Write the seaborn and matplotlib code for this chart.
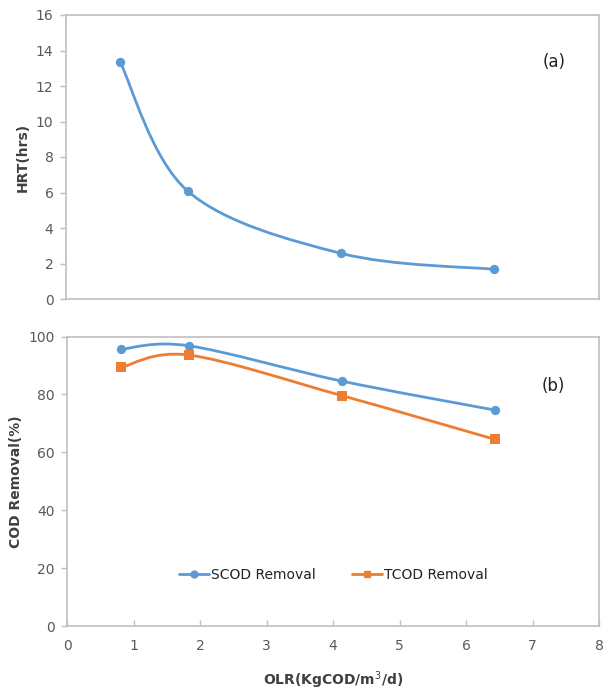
import numpy as np
import pandas as pd
import matplotlib
matplotlib.use("Agg")
import matplotlib.pyplot as plt
import seaborn as sns
from matplotlib.path import Path
from matplotlib.patches import PathPatch
from matplotlib.lines import Line2D

# ---- data ----
olr = [0.81, 1.83, 4.13, 6.43]
hrt = [13.37, 6.07, 2.57, 1.67]
scod_removal = [95.6, 96.8, 84.6, 74.6]
tcod_removal = [89.3, 93.6, 79.6, 64.5]
x_ticks = [0, 1, 2, 3, 4, 5, 6, 7, 8]
hrt_ticks = [0, 2, 4, 6, 8, 10, 12, 14, 16]
cod_ticks = [0, 20, 40, 60, 80, 100]

BLUE = "#5B9BD5"
ORANGE = "#ED7D31"
GRID = "#BFBFBF"
TXT = "#404040"
TICK = "#595959"

sns.set_theme(style="white")
plt.rcParams["font.family"] = ["DejaVu Sans"]

fig = plt.figure(figsize=(6.03, 6.93), dpi=100)
ax1 = fig.add_axes([66 / 603, 1 - 299 / 693, (599 - 66) / 603, (299 - 15) / 693])
ax2 = fig.add_axes([67 / 603, 1 - 626 / 693, (599 - 67) / 603, (626 - 336.5) / 693])


def smooth(ax, xs, ys, color):
    pts = np.column_stack([xs, ys]).astype(float)
    n = len(pts)
    verts = [pts[0]]
    codes = [Path.MOVETO]
    for i in range(n - 1):
        p0 = pts[max(i - 1, 0)]
        p1 = pts[i]
        p2 = pts[i + 1]
        p3 = pts[min(i + 2, n - 1)]
        c1 = p1 + (p2 - p0) / 6.0
        c2 = p2 - (p3 - p1) / 6.0
        verts += [c1, c2, p2]
        codes += [Path.CURVE4] * 3
    ax.add_patch(PathPatch(Path(verts, codes), facecolor="none",
                           edgecolor=color, lw=2.0, zorder=2))


df_top = pd.DataFrame({"OLR": olr, "HRT": hrt})
smooth(ax1, olr, hrt, BLUE)
sns.scatterplot(data=df_top, x="OLR", y="HRT", ax=ax1, color=BLUE, marker="o",
                s=45, edgecolor=BLUE, linewidth=0, zorder=3, legend=False)

df_bot = pd.DataFrame({"OLR": olr + olr,
                       "Removal": scod_removal + tcod_removal,
                       "Series": ["SCOD Removal"] * 4 + ["TCOD Removal"] * 4})
smooth(ax2, olr, scod_removal, BLUE)
smooth(ax2, olr, tcod_removal, ORANGE)
sns.scatterplot(data=df_bot[df_bot.Series == "SCOD Removal"], x="OLR", y="Removal",
                ax=ax2, color=BLUE, marker="o", s=45, linewidth=0, zorder=3, legend=False)
sns.scatterplot(data=df_bot[df_bot.Series == "TCOD Removal"], x="OLR", y="Removal",
                ax=ax2, color=ORANGE, marker="s", s=45, linewidth=0, zorder=3, legend=False)

for ax in (ax1, ax2):
    ax.set_xlim(0, 8)
    for sp in ax.spines.values():
        sp.set_color(GRID)
        sp.set_linewidth(1.2)
    ax.tick_params(axis="y", which="major", left=True, length=4, width=1,
                   color=GRID, labelsize=10, labelcolor=TICK, pad=5, direction="out")

ax1.set_ylim(0, 16)
ax1.set_yticks(hrt_ticks)
ax1.set_xticks([])
ax1.set_xlabel("")
ax1.set_ylabel("HRT(hrs)", fontsize=10, fontweight="bold", color=TXT, labelpad=4)
ax1.text(0.915, 0.835, "(a)", transform=ax1.transAxes, fontsize=12, color="#222222",
         ha="center", va="center")

ax2.set_ylim(0, 100)
ax2.set_yticks(cod_ticks)
ax2.set_xticks(x_ticks)
ax2.tick_params(axis="x", bottom=True, length=4, width=1, color=GRID,
                labelsize=10, labelcolor=TICK, pad=9, direction="in")
ax2.set_ylabel("COD Removal(%)", fontsize=10, fontweight="bold", color=TXT, labelpad=4)
ax2.set_xlabel("OLR(KgCOD/m$^3$/d)", fontsize=10, fontweight="bold", color=TXT, labelpad=12)
ax2.text(0.915, 0.83, "(b)", transform=ax2.transAxes, fontsize=12, color="#222222",
         ha="center", va="center")

handles = [Line2D([], [], color=BLUE, marker="o", lw=2, markersize=5),
           Line2D([], [], color=ORANGE, marker="s", lw=2, markersize=5)]
ax2.legend(handles, ["SCOD Removal", "TCOD Removal"], loc="center",
           bbox_to_anchor=(0.5, 0.175), ncol=2, frameon=False, fontsize=10,
           handlelength=2.2, handletextpad=0.1, columnspacing=2.6,
           labelcolor="#222222")

fig.savefig("out.png", dpi=100)
